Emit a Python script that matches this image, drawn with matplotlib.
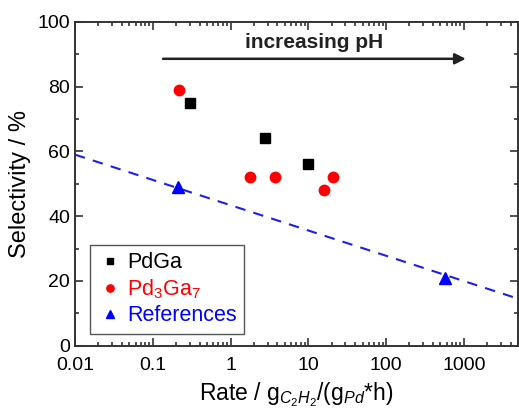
import numpy as np
import matplotlib
matplotlib.use('Agg')
import matplotlib.pyplot as plt
from matplotlib.ticker import MultipleLocator, LogLocator, FixedFormatter, FixedLocator

plt.rcParams['font.family'] = ['Liberation Sans', 'DejaVu Sans']
plt.rcParams['mathtext.fontset'] = 'custom'
plt.rcParams['mathtext.rm'] = 'Liberation Sans'
plt.rcParams['mathtext.it'] = 'Liberation Sans:italic'

# data
pdga_rate = [0.3, 2.8, 9.8]
pdga_sel = [75, 64, 56]
pd3ga7_rate = [0.22, 1.8, 3.7, 16, 21]
pd3ga7_sel = [79, 52, 52, 48, 52]
ref_rate = [0.21, 575]
ref_sel = [49, 21]
fit_rate = [0.01, 5000]
fit_sel = [59, 14.5]

x_ticks = [0.01, 0.1, 1, 10, 100, 1000]
x_labels = ['0.01', '0.1', '1', '10', '100', '1000']

fig = plt.figure(figsize=(5.19, 4.13), dpi=100)
ax = fig.add_axes([0.1445, 0.163, 0.854, 0.784])

ax.plot(fit_rate, fit_sel, '--', color='#1f1fe6', lw=1.5, dashes=(5, 4))
ax.plot(pdga_rate, pdga_sel, 's', color='black', ms=6.5, label='PdGa', ls='none')
ax.plot(pd3ga7_rate, pd3ga7_sel, 'o', color='#ff0000', ms=7.5, label='Pd$_3$Ga$_7$', ls='none')
ax.plot(ref_rate, ref_sel, '^', color='#0000ff', ms=8, label='References', ls='none')

# arrow + label
ax.annotate('', xy=(1150, 88.6), xytext=(0.125, 88.6),
            arrowprops=dict(arrowstyle='-|>', color='#222222', lw=1.8, mutation_scale=16))
ax.text(11.9, 90.8, 'increasing pH', fontsize=15, fontweight='bold', ha='center', va='bottom',
        color='#222222')

ax.set_xscale('log')
ax.set_xlim(0.01, 5000)
ax.set_ylim(0, 100)
ax.xaxis.set_major_locator(FixedLocator(x_ticks))
ax.xaxis.set_major_formatter(FixedFormatter(x_labels))
ax.xaxis.set_minor_locator(LogLocator(base=10, subs=np.arange(2, 10)))
ax.yaxis.set_major_locator(MultipleLocator(20))
ax.yaxis.set_minor_locator(MultipleLocator(10))
ax.tick_params(which='both', direction='in', top=True, right=True, labelsize=14,
               color='#333333', width=1.2)
ax.tick_params(axis='x', which='major', pad=8)
ax.tick_params(which='major', length=6)
ax.tick_params(which='minor', length=3)
for s in ax.spines.values():
    s.set_linewidth(1.4)
    s.set_color('#333333')

ax.set_ylabel('Selectivity / %', fontsize=17, labelpad=5)
ax.set_xlabel(r'Rate / g$_{\mathit{C_2H_2}}$/(g$_{\mathit{Pd}}$*h)', fontsize=16.5, labelpad=5)

leg = ax.legend(loc='lower left', fontsize=15.5, handletextpad=0.25, borderpad=0.35,
                handlelength=1.1, labelspacing=0.2, fancybox=False, framealpha=1,
                edgecolor='#555555', markerscale=0.7, bbox_to_anchor=(0.01, 0.003))
leg.get_frame().set_linewidth(1.0)
for t, c in zip(leg.get_texts(), ['black', '#ff0000', '#0000ff']):
    t.set_color(c)

fig.savefig('out.png', dpi=100)
